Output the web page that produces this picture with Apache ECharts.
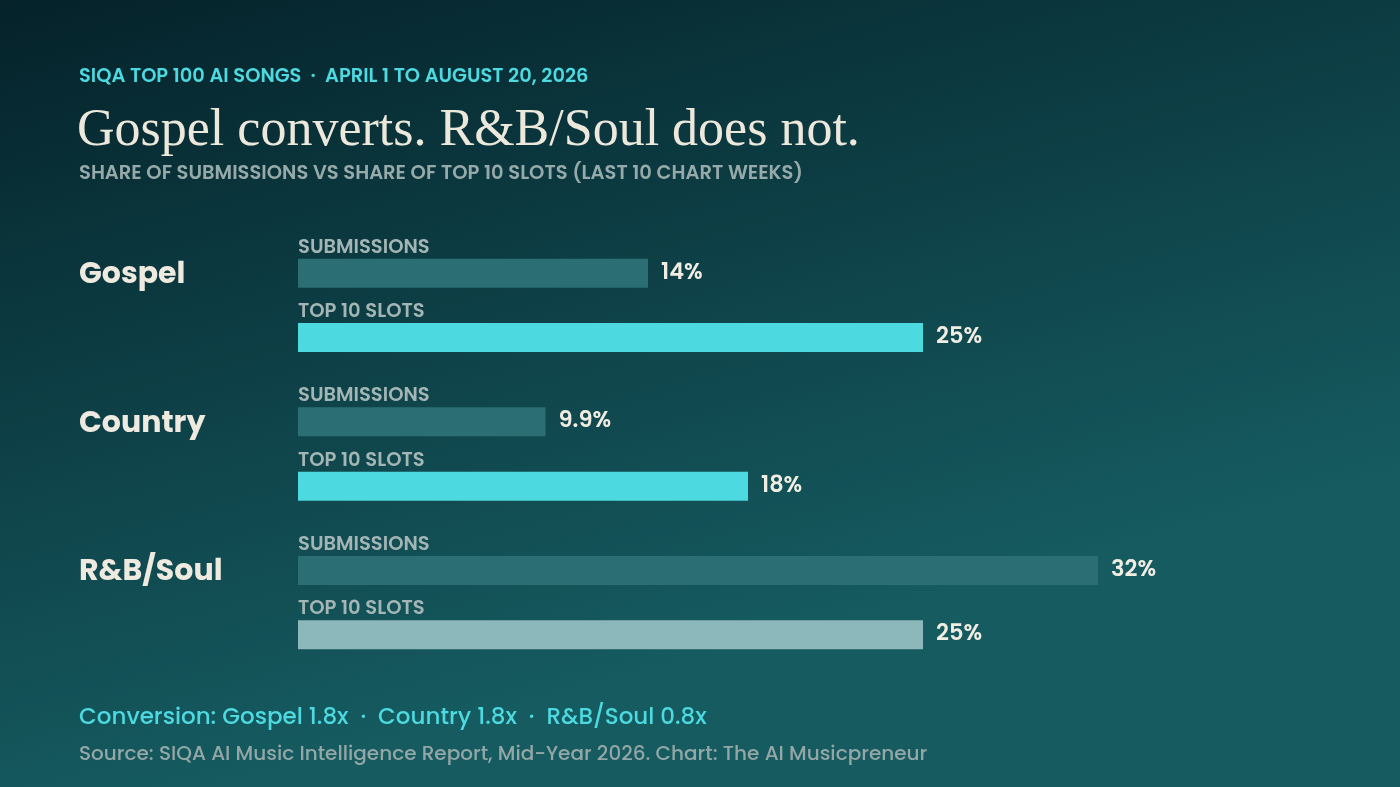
<!DOCTYPE html>
<html>
<head>
  <meta charset="utf-8">
  <title>Gospel converts</title>
  <script src="https://cdn.jsdelivr.net/npm/echarts@6/dist/echarts.min.js"></script>
  <style>
    html, body { margin: 0; padding: 0; background: #0a3138; }
    #main { width: 1400px; height: 787px; }
  </style>
</head>
<body>
  <div id="main"></div>
  <script type="text/javascript">
    // data
    var genres = ['Gospel', 'Country', 'R&B/Soul'];
    var submissions = [14, 9.9, 32];
    var top10 = [25, 18, 25];
    var seriesNames = ['SUBMISSIONS', 'TOP 10 SLOTS'];
    var conversion = ['Gospel 1.8x', 'Country 1.8x', 'R&B/Soul 0.8x'];

    var sans = 'Poppins, Inter, "Noto Sans", sans-serif';
    var subColor = '#2b6e74';
    var topColor = '#4dd9e0';
    var weakColor = '#8cb8bc';

    var myChart = echarts.init(document.getElementById('main'));

    // top 10 bar colour: grey where it converts below 1x
    var topData = top10.map(function (v, i) {
      return {
        value: v,
        itemStyle: { color: v < submissions[i] ? weakColor : topColor }
      };
    });

    var valueLabel = {
      show: true,
      position: 'right',
      distance: 13,
      color: '#f1ede3',
      fontFamily: sans,
      fontWeight: 600,
      fontSize: 22.5,
      formatter: function (p) { return p.value + '%'; }
    };

    function nameLabel(text) {
      return {
        show: true,
        position: [0, -1],
        align: 'left',
        verticalAlign: 'bottom',
        color: '#a3b5b5',
        fontFamily: sans,
        fontWeight: 600,
        fontSize: 19.5,
        formatter: text
      };
    }

    var barCommon = {
      type: 'bar',
      barWidth: 29,
      barGap: '122%',
      barCategoryGap: '37%',
      silent: true
    };

    myChart.setOption({
      backgroundColor: {
        type: 'linear', x: 0, y: 0, x2: 0.15, y2: 1,
        colorStops: [
          { offset: 0, color: '#05222a' },
          { offset: 1, color: '#155b60' }
        ]
      },
      animation: false,
      title: [{
        text: 'SIQA TOP 100 AI SONGS  ·  APRIL 1 TO AUGUST 20, 2026',
        left: 74, top: 63,
        textStyle: { color: '#4dd9e0', fontFamily: sans, fontWeight: 600, fontSize: 19.4 }
      }, {
        text: 'Gospel converts. R&B/Soul does not.',
        left: 72, top: 100,
        textStyle: { color: '#ece8dc', fontFamily: '"Liberation Serif", serif', fontWeight: 'normal', fontSize: 52 }
      }, {
        text: 'SHARE OF SUBMISSIONS VS SHARE OF TOP 10 SLOTS (LAST 10 CHART WEEKS)',
        left: 74, top: 159,
        textStyle: { color: '#97aaaa', fontFamily: sans, fontWeight: 600, fontSize: 19.5 }
      }, {
        text: 'Conversion: ' + conversion.join('  ·  '),
        left: 74, top: 702,
        textStyle: { color: '#4dd9e0', fontFamily: sans, fontWeight: 500, fontSize: 23 }
      }, {
        text: 'Source: SIQA AI Music Intelligence Report, Mid-Year 2026. Chart: The AI Musicpreneur',
        left: 74, top: 740,
        textStyle: { color: '#93a7a7', fontFamily: sans, fontWeight: 500, fontSize: 20 }
      }],
      grid: { left: 298, right: 102, top: 231, height: 446, containLabel: false },
      xAxis: {
        type: 'value', min: 0, max: 40,
        show: false
      },
      yAxis: [{
        type: 'category',
        data: genres,
        inverse: true,
        axisLine: { show: false },
        axisTick: { show: false },
        splitLine: { show: false },
        axisLabel: {
          align: 'left',
          margin: 219,
          // empty second line lifts the name up to the submissions bar
          formatter: function (v) { return '{a|' + v + '}\n{b| }'; },
          rich: {
            a: {
              color: '#efeadf',
              fontFamily: sans,
              fontWeight: 'bold',
              fontSize: 30,
              lineHeight: 36
            },
            b: { fontSize: 10, lineHeight: 60 }
          }
        }
      }, {
        type: 'category',
        data: genres,
        inverse: true,
        show: false
      }],
      series: [
        Object.assign({}, barCommon, {
          name: seriesNames[0],
          yAxisIndex: 0,
          data: submissions,
          itemStyle: { color: subColor },
          label: valueLabel
        }),
        Object.assign({}, barCommon, {
          name: seriesNames[1],
          yAxisIndex: 0,
          data: topData,
          label: valueLabel
        }),
        // transparent twins that carry the bar names above each bar
        Object.assign({}, barCommon, {
          yAxisIndex: 1,
          data: submissions,
          itemStyle: { color: 'rgba(0,0,0,0)' },
          label: nameLabel(seriesNames[0])
        }),
        Object.assign({}, barCommon, {
          yAxisIndex: 1,
          data: top10,
          itemStyle: { color: 'rgba(0,0,0,0)' },
          label: nameLabel(seriesNames[1])
        })
      ]
    });
  </script>
</body>
</html>
